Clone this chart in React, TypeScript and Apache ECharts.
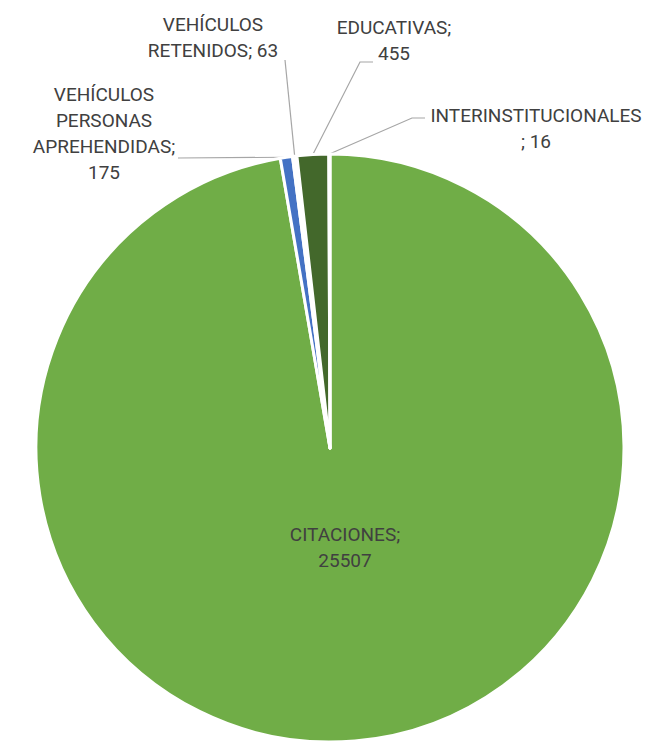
import React, { useEffect, useRef } from "react";
import * as echarts from "echarts";

const categories = [
  "CITACIONES",
  "VEHÍCULOS\nPERSONAS\nAPREHENDIDAS",
  "VEHÍCULOS\nRETENIDOS",
  "EDUCATIVAS",
  "INTERINSTITUCIONALES",
];
const values = [25507, 175, 63, 455, 16];
const separators = [";\n", ";\n", "; ", ";\n", "\n; "];
const colors = ["#70AD47", "#4472C4", "#FFFFFF", "#43682B", "#FFFFFF"];

const CX = 330;
const CY = 448;
const R = 294;
const FONT = "Roboto, 'Liberation Sans', sans-serif";

// label block centres and leader line ends (layout only)
const labelPos: Array<[number, number]> = [
  [345, 547],
  [104, 133],
  [213, 37],
  [394, 40],
  [536, 128],
];
const lineEnds: Array<Array<[number, number]> | null> = [
  null,
  [[178, 158], [178, 158]],
  [[285, 60], [285, 60]],
  [[360, 62], [373, 62]],
  [[412, 118], [425, 118]],
];

export default function App() {
  const ref = useRef<HTMLDivElement>(null);
  useEffect(() => {
    if (!ref.current) return;
    const chart = echarts.init(ref.current, null, { renderer: "svg" });
    const total = values.reduce((a, b) => a + b, 0);
    const edgePoint = (idx: number): [number, number] => {
      let before = 0;
      for (let i = 0; i < idx; i++) before += values[i];
      const mid = ((before + values[idx] / 2) / total) * Math.PI * 2;
      return [CX + R * Math.sin(mid), CY - R * Math.cos(mid)];
    };
    chart.setOption({
      animation: false,
      backgroundColor: "#ffffff",
      series: [
        {
          type: "pie",
          center: [CX, CY],
          radius: [0, R],
          startAngle: 90,
          clockwise: true,
          avoidLabelOverlap: false,
          itemStyle: { borderColor: "#ffffff", borderWidth: 3 },
          label: {
            show: true,
            position: "outside",
            color: "#404040",
            fontFamily: FONT,
            fontSize: 19,
            lineHeight: 26,
            align: "center",
            formatter: (p: any) =>
              categories[p.dataIndex] + separators[p.dataIndex] + p.value,
          },
          labelLine: {
            show: true,
            lineStyle: { color: "#A6A6A6", width: 1.2 },
          },
          labelLayout: (params: any) => {
            const i = params.dataIndex;
            const [x, y] = labelPos[i];
            const out: any = { x, y, align: "center", verticalAlign: "middle" };
            const ends = lineEnds[i];
            if (ends) {
              const p0 =
                params.labelLinePoints && params.labelLinePoints[0]
                  ? params.labelLinePoints[0]
                  : edgePoint(i);
              out.labelLinePoints = [p0, ends[0], ends[1]];
            }
            return out;
          },
          data: categories.map((name, i) => {
            const item: any = {
              name,
              value: values[i],
              itemStyle: { color: colors[i] },
            };
            if (i === 0) {
              item.label = { position: "inside" };
              item.labelLine = { show: false };
            }
            return item;
          }),
        },
      ],
    });
    return () => chart.dispose();
  }, []);
  return (
    <div
      ref={ref}
      style={{ position: "absolute", left: 0, top: 0, width: 663, height: 744 }}
    />
  );
}
